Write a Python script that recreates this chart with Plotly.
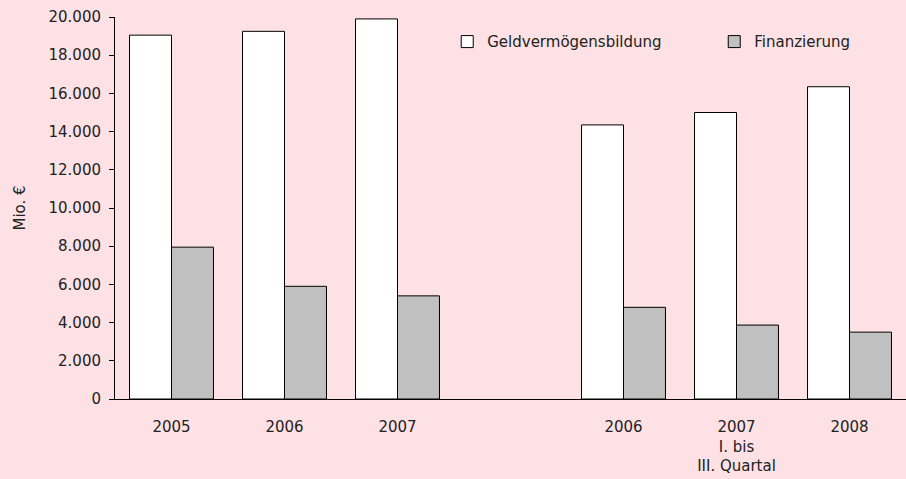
import plotly.graph_objects as go

# positions 0..6, position 3 is the empty spacer between annual and quarterly data
positions = [0, 1, 2, 3, 4, 5, 6]
tick_labels = ["2005", "2006", "2007", "", "2006", "2007<br>I. bis<br>III. Quartal", "2008"]
geldvermoegen = [19050, 19250, 19900, None, 14350, 15000, 16350]
finanzierung = [7950, 5900, 5400, None, 4800, 3870, 3500]

BG = "#FDE1E4"
FONT = "DejaVu Sans"
TXT = "#222222"
PAD = "\u00a0" * 10

fig = go.Figure()
fig.add_trace(go.Bar(
    x=positions, y=geldvermoegen, name="Geldvermögensbildung" + PAD,
    marker=dict(color="#FFFFFF", line=dict(color="#000000", width=1))))
fig.add_trace(go.Bar(
    x=positions, y=finanzierung, name="Finanzierung",
    marker=dict(color="#C0C0C0", line=dict(color="#000000", width=1))))

fig.update_layout(
    width=906, height=479,
    paper_bgcolor=BG, plot_bgcolor=BG,
    margin=dict(l=115, r=0, t=17, b=80),
    font=dict(family=FONT, size=15, color=TXT),
    separators=",.",
    barmode="group", bargap=0.257, bargroupgap=0,
    showlegend=True,
    legend=dict(orientation="h", x=0.42, y=0.935, xanchor="left", yanchor="middle",
                bgcolor="rgba(0,0,0,0)", font=dict(size=15, color=TXT),
                itemwidth=30),
    xaxis=dict(range=[-0.5, 6.5], tickmode="array", tickvals=positions, ticktext=tick_labels,
               showgrid=False, zeroline=False, showline=True, linecolor="#000000", linewidth=1,
               ticks="", ticklabelstandoff=14),
    yaxis=dict(range=[0, 20000], dtick=2000, tickformat=",d",
               showgrid=False, zeroline=False, showline=True, linecolor="#000000", linewidth=1,
               ticks="outside", ticklen=5, tickcolor="#000000", ticklabelstandoff=5,
               title=dict(text="Mio. €", font=dict(size=15, color=TXT), standoff=19)),
)

fig.write_html("out.html", config={"displayModeBar": False},
               post_script="document.body.style.margin='0';")
